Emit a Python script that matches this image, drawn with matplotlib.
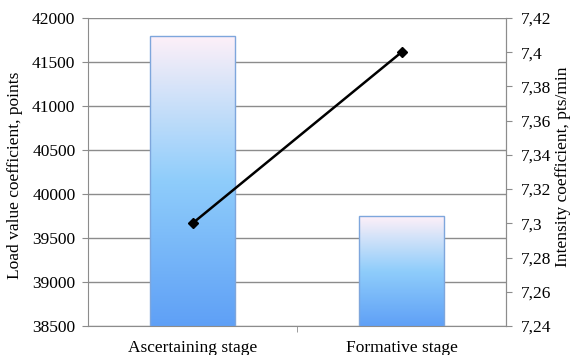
import matplotlib
matplotlib.use('Agg')
import matplotlib.pyplot as plt
import numpy as np
from matplotlib.colors import LinearSegmentedColormap
from matplotlib.ticker import FixedLocator, FuncFormatter

# Data
stages = ["Ascertaining stage", "Formative stage"]
load_values = [41800, 39750]
intensity = [7.30, 7.40]
left_ticks = [38500, 39000, 39500, 40000, 40500, 41000, 41500, 42000]
right_ticks = [7.24, 7.26, 7.28, 7.30, 7.32, 7.34, 7.36, 7.38, 7.40, 7.42]

plt.rcParams['font.family'] = ['Liberation Serif', 'DejaVu Serif']
plt.rcParams['font.size'] = 12.5

fig = plt.figure(figsize=(5.72, 3.55), dpi=100)
ax = fig.add_axes([88/572, 29/355, 418/572, 308/355])
grid_c = '#8c8c8c'

x = np.arange(len(stages))
bars = ax.bar(x, load_values, width=0.41, color='none', edgecolor='#7ea6dc',
              linewidth=1.0, zorder=3)

# gradient fill: blue at bottom -> pinkish white at top
cmap = LinearSegmentedColormap.from_list(
    'grad', [(0, '#5fa0f6'), (0.5, '#8fcdfb'), (1, '#fef0f8')])
grad = np.linspace(0, 1, 256).reshape(-1, 1)
for b in bars:
    x0, y0 = b.get_x(), 38500
    im = ax.imshow(grad, cmap=cmap, origin='lower', aspect='auto',
                   extent=[x0, x0 + b.get_width(), y0, b.get_height()], zorder=2)
    im.set_clip_path(b)

ax.set_xlim(-0.5, 1.5)
ax.set_ylim(38500, 42000)
ax.set_yticks(left_ticks)
ax.set_xticks(x)
ax.set_xticklabels(stages)
ax.xaxis.set_minor_locator(FixedLocator([0.5]))
ax.tick_params(axis='x', which='both', length=0, pad=10)
ax.tick_params(axis='x', which='minor', length=4, color=grid_c)
ax.tick_params(axis='y', length=4, color=grid_c, pad=5)
ax.grid(axis='y', color=grid_c, linewidth=1.0, zorder=0)
ax.set_axisbelow(True)
ax.spines['top'].set_visible(False)
for s in ['left', 'right', 'bottom']:
    ax.spines[s].set_color(grid_c)

ax2 = ax.twinx()
ax2.plot(x, intensity, color='black', linewidth=1.8, marker='D', markersize=5,
         zorder=5)
ax2.set_ylim(7.24, 7.42)
ax2.set_yticks(right_ticks)
ax2.yaxis.set_major_formatter(FuncFormatter(lambda v, p: f"{v:g}".replace('.', ',')))
ax2.tick_params(axis='y', length=4, color=grid_c, pad=7)
for s in ['top', 'left', 'bottom']:
    ax2.spines[s].set_visible(False)
ax2.spines['right'].set_color(grid_c)

fig.text(15/572, 1 - 175/355, "Load value coefficient, points", rotation=90,
         ha='center', va='center')
fig.text(563/572, 1 - 167/355, "Intensity coefficient, pts/min", rotation=90,
         ha='center', va='center')

plt.savefig("out.png", dpi=100, facecolor='white')
